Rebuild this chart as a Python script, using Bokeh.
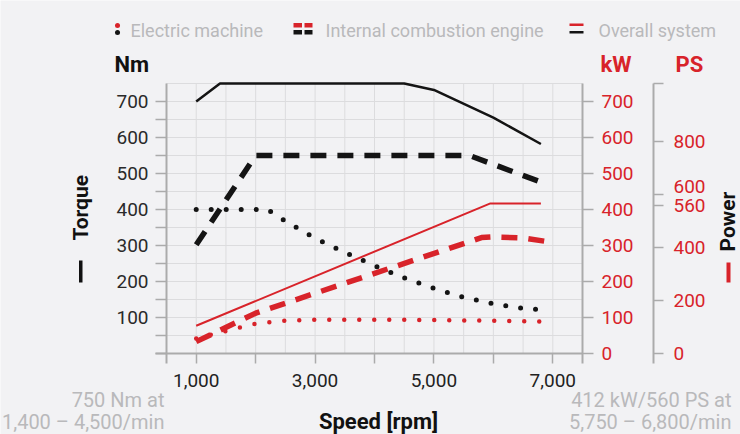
import math
from bokeh.plotting import figure
from bokeh.models import Range1d, LinearAxis, FixedTicker, Label, BoxAnnotation
from bokeh.embed import file_html
from bokeh.resources import INLINE

# ---------------- data ----------------
RED = "#d8232a"
BLACK = "#141414"

# Overall system torque [Nm]
ov_torque_rpm = [1000, 1400, 4500, 5000, 6000, 6800]
ov_torque = [700, 750, 750, 732, 655, 582]
# Internal combustion engine torque [Nm]
ice_torque_rpm = [1000, 2000, 5600, 6900]
ice_torque = [302, 550, 550, 470]
# Electric machine torque [Nm]
em_torque_rpm = [1000, 2200, 2500, 3000, 3500, 4000, 4500, 5000, 5500, 6000, 6500, 6800]
em_torque = [400, 400, 368, 320, 281, 244, 210, 181, 156, 138, 125, 122]

# Overall system power [kW]
ov_power_rpm = [1000, 5950, 6800]
ov_power = [77, 417, 417]
# Internal combustion engine power [kW]
ice_power_rpm = [1000, 2000, 5800, 6000, 6500, 6900]
ice_power = [33, 112, 322, 324, 321, 311]
# Electric machine power [kW]
em_power_rpm = [1000, 1500, 2000, 2500, 3000, 4000, 5000, 6000, 6800]
em_power = [42, 62, 83, 91, 94, 94, 93, 91, 89]

# axes / ticks
speed_min, speed_max = 500, 7500
torque_max = 750
ps_max = 1020
speed_ticks = [1000, 2000, 3000, 4000, 5000, 6000, 7000]
speed_labels = {1000: "1,000", 3000: "3,000", 5000: "5,000", 7000: "7,000"}
speed_grid = list(range(500, 7501, 500))
nm_ticks = list(range(0, 701, 50))
nm_labels = {100: "100", 200: "200", 300: "300", 400: "400", 500: "500", 600: "600", 700: "700"}
nm_grid = list(range(0, 751, 50))
kw_ticks = [0, 100, 200, 300, 400, 500, 600, 700]
ps_ticks = [0, 200, 400, 560, 600, 800, 1020]
ps_labels = {0: "0", 200: "200", 400: "400", 560: "560", 600: "", 800: "800", 1020: ""}

legend_names = ["Electric machine", "Internal combustion engine", "Overall system"]
note_left = ["750 Nm at", "1,400 \u2013 4,500/min"]
note_right = ["412 kW/560 PS at", "5,750 \u2013 6,800/min"]

# ---------------- page-pixel helpers (layout only) ----------------
W, H = 740, 434
X0, X1 = 166, 582      # pixel position of speed_min / speed_max
Y0, Y1 = 353, 83       # pixel position of 0 / torque_max


def dx(px):
    return speed_min + (px - X0) * (speed_max - speed_min) / (X1 - X0)


def dy(py):
    return (Y0 - py) * torque_max / (Y0 - Y1)


# ---------------- figure ----------------
BG = "#f2f2f4"
AX = "#ababab"
p = figure(width=W, height=H, x_range=Range1d(dx(0), dx(W)), y_range=Range1d(dy(H), dy(0)),
           output_backend="svg", toolbar_location=None,
           min_border_left=0, min_border_right=0, min_border_top=0, min_border_bottom=0)
p.background_fill_color = BG
p.border_fill_color = BG
p.outline_line_color = None
p.xaxis.visible = False
p.yaxis.visible = False
p.xgrid.visible = False
p.ygrid.visible = False

# grid
p.segment(x0=speed_grid, y0=[0] * len(speed_grid), x1=speed_grid, y1=[torque_max] * len(speed_grid),
          line_color="#dcdcde", line_width=1)
p.segment(x0=[speed_min] * len(nm_grid), y0=nm_grid, x1=[speed_max] * len(nm_grid), y1=nm_grid,
          line_color="#dcdcde", line_width=1)


def style_axis(ax, color, standoff, tick_out):
    ax.axis_line_color = AX
    ax.axis_line_width = 2
    ax.major_tick_line_color = AX
    ax.major_tick_line_width = 1.5
    ax.major_tick_out = tick_out
    ax.major_tick_in = 0
    ax.minor_tick_out = 0
    ax.minor_tick_in = 0
    ax.major_label_standoff = standoff
    ax.major_label_text_font = "Roboto"
    ax.major_label_text_font_size = "19px"
    ax.major_label_text_color = color


ext_x = dx(X0) - dx(X0 - 11)     # axis overhang past the corner
ext_y = dy(Y0) - dy(Y0 + 10)

xa = LinearAxis(ticker=FixedTicker(ticks=speed_ticks), fixed_location=0,
                bounds=(speed_min - ext_x, speed_max))
xa.major_label_overrides = {t: speed_labels.get(t, "") for t in speed_ticks}
style_axis(xa, "#222222", 10, 10)
p.add_layout(xa, "below")

ya = LinearAxis(ticker=FixedTicker(ticks=nm_ticks), fixed_location=speed_min,
                bounds=(-ext_y, torque_max))
ya.major_label_overrides = {t: nm_labels.get(t, "") for t in nm_ticks}
style_axis(ya, "#2a2a2a", 7, 11)
p.add_layout(ya, "left")

kw_axis = LinearAxis(ticker=FixedTicker(ticks=kw_ticks), fixed_location=speed_max,
                     bounds=(-ext_y, torque_max))
style_axis(kw_axis, RED, 8, 11)
p.add_layout(kw_axis, "right")

ps_scale = ps_max / torque_max
p.extra_y_ranges = {"ps": Range1d(dy(H) * ps_scale, dy(0) * ps_scale)}
ps_axis = LinearAxis(y_range_name="ps", ticker=FixedTicker(ticks=ps_ticks), fixed_location=dx(653),
                     bounds=(-ext_y * ps_scale, ps_max))
ps_axis.major_label_overrides = ps_labels
style_axis(ps_axis, RED, 10, 10)
p.add_layout(ps_axis, "right")

# ---------------- lines ----------------
p.line(ov_power_rpm, ov_power, line_color=RED, line_width=2)
p.line(ice_power_rpm, ice_power, line_color=RED, line_width=5.5, line_dash="16 11")
p.line(em_power_rpm, em_power, line_color=RED, line_width=4.5, line_dash="0 15", line_cap="round")

p.line(ov_torque_rpm, ov_torque, line_color=BLACK, line_width=2.5)
p.line(ice_torque_rpm, ice_torque, line_color=BLACK, line_width=5.5, line_dash="16 11")
p.line(em_torque_rpm, em_torque, line_color=BLACK, line_width=5, line_dash="0 15", line_cap="round")


# ---------------- annotations ----------------
def lab(text, X, Y, size, color, align="left", baseline="middle", bold=False, angle=0.0):
    p.add_layout(Label(x=dx(X), y=dy(Y), text=text, text_font="Roboto", text_font_size=size,
                       text_color=color, text_align=align, text_baseline=baseline,
                       text_font_style="bold" if bold else "normal", angle=angle))


def box(x0, x1, y0, y1, color, radius=0):
    p.add_layout(BoxAnnotation(left=dx(x0), right=dx(x1), top=dy(y0), bottom=dy(y1),
                               fill_color=color, fill_alpha=1, line_color=None,
                               border_radius=radius, level="overlay"))


LEG = "#b9b9bb"
# legend icons
box(114.5, 119.5, 22.5, 27.5, RED, 3)
box(114.5, 119.5, 29.5, 34.5, BLACK, 3)
box(293, 301.5, 22.5, 27, RED)
box(304, 312, 22.5, 27, RED)
box(293, 301.5, 29.5, 34, BLACK)
box(304, 312, 29.5, 34, BLACK)
box(569, 583, 23, 25.5, RED)
box(569, 583, 30.5, 33, BLACK)
lab(legend_names[0], 130, 30, "18px", LEG)
lab(legend_names[1], 325, 30, "18px", LEG)
lab(legend_names[2], 598, 30, "18px", LEG)

# units
lab("Nm", 114, 64, "22px", "#111111", bold=True)
lab("kW", 600, 64, "22px", RED, bold=True)
lab("PS", 675, 64, "22px", RED, bold=True)
lab("600", 673, 186, "19px", RED)

# rotated axis titles with their line keys
lab("Torque", 80, 240, "21px", "#111111", bold=True, angle=math.pi / 2)
box(78.5, 82, 260, 282, "#111111")
lab("Power", 727, 251, "21px", "#111111", bold=True, angle=math.pi / 2)
box(726, 730, 262, 282, RED)

# x title and notes
lab("Speed [rpm]", 378, 421, "22px", "#111111", align="center", bold=True)
lab(note_left[0], 164, 399, "20px", LEG, align="right")
lab(note_left[1], 164, 421, "20px", LEG, align="right")
lab(note_right[0], 731, 399, "20px", LEG, align="right")
lab(note_right[1], 731, 421, "20px", LEG, align="right")

open("out.html", "w").write(file_html(p, INLINE))
